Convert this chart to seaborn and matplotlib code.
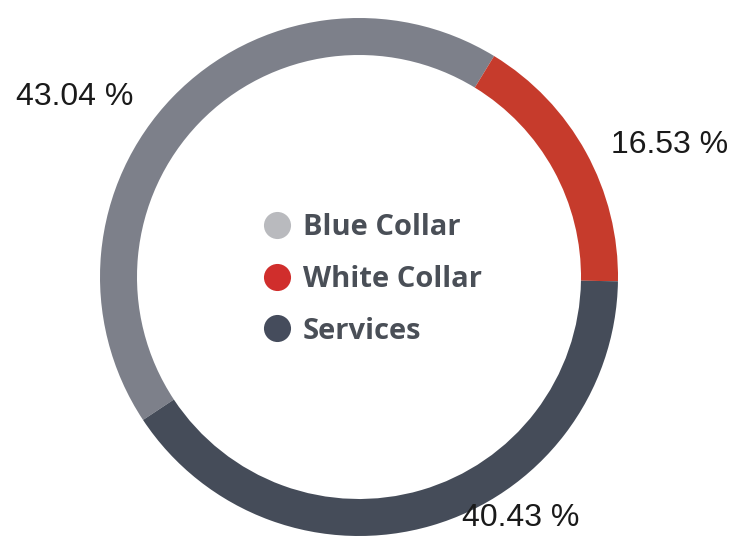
import seaborn as sns
import matplotlib.pyplot as plt
from matplotlib.lines import Line2D

# data
categories = ["Blue Collar", "White Collar", "Services"]
shares = [43.04, 16.53, 40.43]
ring_colors = ["#7d808a", "#c63b2c", "#454c59"]
legend_colors = ["#b9babe", "#d02e2c", "#454c5c"]
label_texts = ["43.04 %", "16.53 %", "40.43 %"]

sns.set_theme(style="white")
plt.rcParams['font.family'] = ['Liberation Sans', 'DejaVu Sans']

fig = plt.figure(figsize=(7.31, 5.36), dpi=100)
ax = fig.add_axes([0, 0, 1, 1])

# donut ring, drawn clockwise
ax.pie(shares, colors=ring_colors, center=(359, 259), radius=259,
       startangle=213.5, counterclock=False,
       wedgeprops=dict(width=37, linewidth=0))

# percentage labels (pixel positions, y measured from bottom)
label_pos = [(75, 439), (670, 391), (521, 18)]
for txt, (x, y) in zip(label_texts, label_pos):
    ax.text(x, y, txt, fontsize=23, color="#1a1a1a", ha="center", va="center")

ax.set_xlim(0, 731)
ax.set_ylim(0, 536)
ax.set_aspect("equal")
ax.axis("off")

# legend with round markers in the middle
handles = [Line2D([], [], marker="o", linestyle="", markersize=19.5,
                  markerfacecolor=c, markeredgewidth=0) for c in legend_colors]
leg = ax.legend(handles, categories, loc="center", bbox_to_anchor=(0.503, 0.479),
                frameon=False, handletextpad=0.08, labelspacing=0.78,
                handlelength=1.6,
                prop=dict(family="Open Sans", weight="bold", size=21))
for t in leg.get_texts():
    t.set_color("#4a4f57")

fig.savefig("out.png", dpi=100)
